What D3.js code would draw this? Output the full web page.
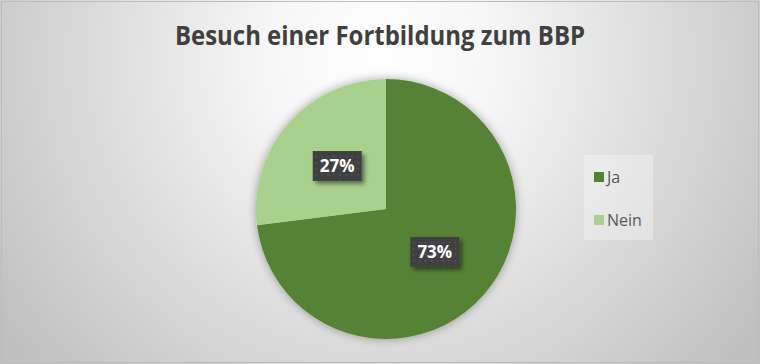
<!DOCTYPE html>
<html><head><meta charset="utf-8">
<script src="https://cdn.jsdelivr.net/npm/d3@7"></script>
<style>html,body{margin:0;padding:0;background:#fff;}svg{display:block;}</style>
</head><body>
<script>
const categories = ["Ja", "Nein"];
const values = [73, 27];
const labels = ["73%", "27%"];
const colors = ["#548235", "#A9D18E"];
const title = "Besuch einer Fortbildung zum BBP";

const W = 760, H = 364;
const svg = d3.select("body").append("svg").attr("width", W).attr("height", H);
const defs = svg.append("defs");

const rg = defs.append("radialGradient").attr("id", "bg").attr("gradientUnits", "userSpaceOnUse")
  .attr("cx", 380).attr("cy", 60).attr("r", 460);
rg.append("stop").attr("offset", 0).attr("stop-color", "#ffffff");
rg.append("stop").attr("offset", 0.25).attr("stop-color", "#f6f6f6");
rg.append("stop").attr("offset", 1).attr("stop-color", "#c0c0c0");

const sh = defs.append("filter").attr("id", "pieShadow").attr("x", "-20%").attr("y", "-20%").attr("width", "140%").attr("height", "140%");
sh.append("feDropShadow").attr("dx", 0).attr("dy", 0).attr("stdDeviation", 5).attr("flood-color", "#000").attr("flood-opacity", 0.35);

const lsh = defs.append("filter").attr("id", "lblShadow").attr("x", "-30%").attr("y", "-30%").attr("width", "160%").attr("height", "160%");
lsh.append("feDropShadow").attr("dx", 3).attr("dy", 3).attr("stdDeviation", 2).attr("flood-color", "#000").attr("flood-opacity", 0.45);

const pat = defs.append("pattern").attr("id", "dots").attr("patternUnits", "userSpaceOnUse").attr("width", 6).attr("height", 6);
pat.append("rect").attr("width", 6).attr("height", 6).attr("fill", "#404040");
pat.append("rect").attr("x", 2).attr("y", 2).attr("width", 1.5).attr("height", 1.5).attr("fill", "#5a5a5a");

svg.append("rect").attr("x", 0).attr("y", 0).attr("width", W).attr("height", H).attr("fill", "url(#bg)");
svg.append("rect").attr("x", 1.5).attr("y", 1.5).attr("width", W - 3).attr("height", H - 3)
  .attr("fill", "none").attr("stroke", "#bcbcbc").attr("stroke-width", 1);

svg.append("text").attr("x", 380).attr("y", 45).attr("text-anchor", "middle")
  .attr("font-family", "'Open Sans', sans-serif").attr("font-weight", 700).attr("font-size", 27)
  .attr("fill", "#404040").attr("textLength", 410).attr("lengthAdjust", "spacingAndGlyphs")
  .text(title);

const cx = 386, cy = 209, r = 130;
const pie = d3.pie().sort(null).value(d => d)(values);
const arc = d3.arc().innerRadius(0).outerRadius(r);
const g = svg.append("g").attr("transform", `translate(${cx},${cy})`);
g.append("g").attr("filter", "url(#pieShadow)")
  .selectAll("path").data(pie).join("path")
  .attr("d", arc).attr("fill", (d, i) => colors[i]);

const lg = g.selectAll("g.lbl").data(pie).join("g").attr("class", "lbl")
  .attr("transform", d => `translate(${arc.centroid(d)})`);
lg.append("rect").attr("x", -24.5).attr("y", -15).attr("width", 49).attr("height", 30)
  .attr("fill", "url(#dots)").attr("filter", "url(#lblShadow)");
lg.append("text").attr("text-anchor", "middle").attr("dy", 6)
  .attr("font-family", "'Open Sans', sans-serif").attr("font-weight", 700).attr("font-size", 17)
  .attr("fill", "#ffffff").text((d, i) => labels[i]);

const leg = svg.append("g");
leg.append("rect").attr("x", 584).attr("y", 155).attr("width", 69).attr("height", 85)
  .attr("fill", "#ffffff").attr("fill-opacity", 0.3);
const li = leg.selectAll("g.li").data(categories).join("g").attr("class", "li")
  .attr("transform", (d, i) => `translate(594,${172 + i * 43})`);
li.append("rect").attr("width", 10).attr("height", 10).attr("fill", (d, i) => colors[i]);
li.append("text").attr("x", 13).attr("y", 10.5).attr("font-family", "'Open Sans', sans-serif")
  .attr("font-size", 16).attr("fill", "#595959").text(d => d);
</script>
</body></html>
